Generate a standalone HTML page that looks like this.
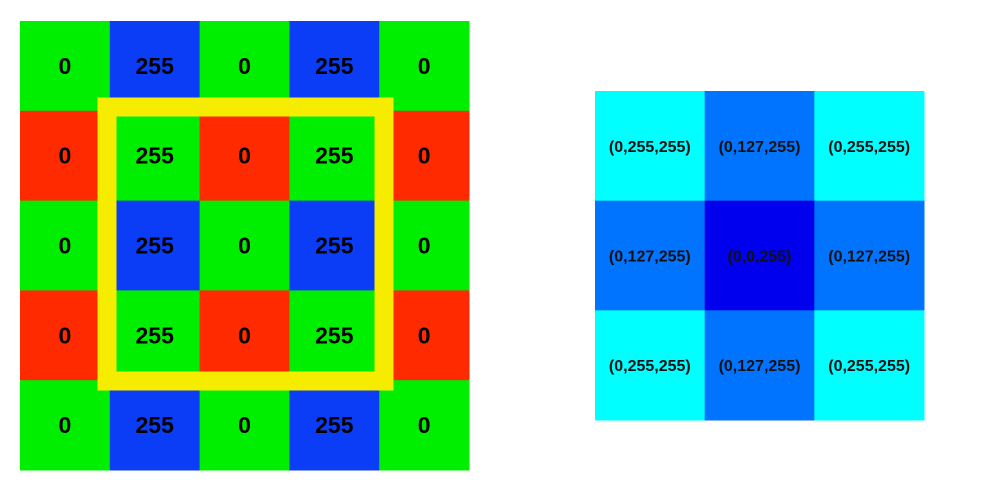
<!DOCTYPE html>
<html><head><meta charset="utf-8">
<style>
html,body{margin:0;padding:0;background:#fff;width:1000px;height:490px;overflow:hidden}
svg{display:block;font-family:"Liberation Sans",Arial,sans-serif;font-weight:bold}
</style></head>
<body>
<svg id="chart" width="1000" height="490">
  <g id="left"></g>
  <rect x="107" y="107" width="277" height="274" fill="none" stroke="#f5ec00" stroke-width="19"/>
  <g id="right"></g>
</svg>
<script>
// Left grid data: values and channel per cell (row-major)
const leftValues = [
  [0,255,0,255,0],
  [0,255,0,255,0],
  [0,255,0,255,0],
  [0,255,0,255,0],
  [0,255,0,255,0]
];
const leftChannels = [
  ["G","B","G","B","G"],
  ["R","G","R","G","R"],
  ["G","B","G","B","G"],
  ["R","G","R","G","R"],
  ["G","B","G","B","G"]
];
// Right grid data: RGB triples per cell
const rightR = [[0,0,0],[0,0,0],[0,0,0]];
const rightG = [[255,127,255],[127,0,127],[255,127,255]];
const rightB = [[255,255,255],[255,255,255],[255,255,255]];

const NS = "http://www.w3.org/2000/svg";
const chanColor = {G:"#00ee00", B:"#0a3df5", R:"#ff2a00"};

// left axis functions
const L = {x0:20, y0:21, w:449, h:449};
const lx = c => L.x0 + c * L.w / leftValues[0].length;
const ly = r => L.y0 + r * L.h / leftValues.length;
const left = document.getElementById("left");
leftValues.forEach((row, r) => row.forEach((v, c) => {
  const rect = document.createElementNS(NS, "rect");
  rect.setAttribute("x", lx(c)); rect.setAttribute("y", ly(r));
  rect.setAttribute("width", lx(c+1)-lx(c)+0.5); rect.setAttribute("height", ly(r+1)-ly(r)+0.5);
  rect.setAttribute("fill", chanColor[leftChannels[r][c]]);
  
  
  left.appendChild(rect);
  const t = document.createElementNS(NS, "text");
  t.setAttribute("x", (lx(c)+lx(c+1))/2); t.setAttribute("y", (ly(r)+ly(r+1))/2 + 8);
  t.setAttribute("text-anchor", "middle"); t.setAttribute("font-size", "23");
  t.setAttribute("fill", "#000");
  t.textContent = v;
  
  
  left.appendChild(t);
}));

// right axis functions
const Rg = {x0:595, y0:91, w:329, h:329};
const rx = c => Rg.x0 + c * Rg.w / rightG[0].length;
const ry = r => Rg.y0 + r * Rg.h / rightG.length;
const right = document.getElementById("right");
rightG.forEach((row, r) => row.forEach((g, c) => {
  const R = rightR[r][c], B = rightB[r][c];
  const gDisp = g === 127 ? 115 : g;
  const bDisp = g === 0 ? 238 : B;
  const rect = document.createElementNS(NS, "rect");
  rect.setAttribute("x", rx(c)); rect.setAttribute("y", ry(r));
  rect.setAttribute("width", rx(c+1)-rx(c)+0.5); rect.setAttribute("height", ry(r+1)-ry(r)+0.5);
  rect.setAttribute("fill", `rgb(${R},${gDisp},${bDisp})`);
  
  
  right.appendChild(rect);
  const t = document.createElementNS(NS, "text");
  t.setAttribute("x", (rx(c)+rx(c+1))/2); t.setAttribute("y", (ry(r)+ry(r+1))/2 + 6);
  t.setAttribute("text-anchor", "middle"); t.setAttribute("font-size", "16");
  t.setAttribute("fill", "#111");
  t.textContent = `(${R},${g},${B})`;
  
  
  right.appendChild(t);
}));
</script>
</body></html>
